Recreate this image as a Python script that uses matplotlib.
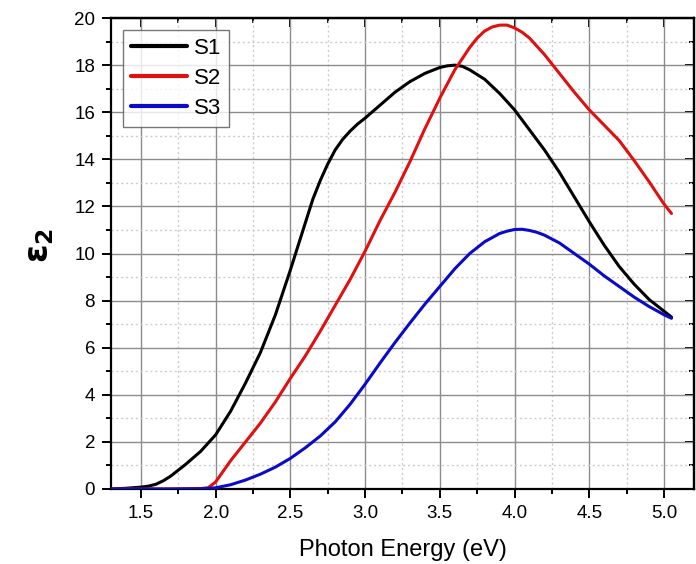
import matplotlib
matplotlib.use("Agg")
import matplotlib.pyplot as plt
from matplotlib.ticker import MultipleLocator, FormatStrFormatter

plt.rcParams['font.family'] = ['Liberation Sans', 'DejaVu Sans']

e1 = [1.3, 1.4, 1.5, 1.55, 1.6, 1.65, 1.7, 1.75, 1.8, 1.9, 2.0, 2.1, 2.2, 2.3, 2.4, 2.5,
      2.6, 2.65, 2.7, 2.75, 2.8, 2.85, 2.9, 2.95, 3.0, 3.1, 3.2, 3.3, 3.4, 3.5, 3.55, 3.6,
      3.65, 3.7, 3.8, 3.9, 4.0, 4.1, 4.2, 4.3, 4.4, 4.5, 4.6, 4.7, 4.8, 4.9, 5.0, 5.05]
s1 = [0.0, 0.03, 0.08, 0.12, 0.2, 0.35, 0.55, 0.8, 1.05, 1.6, 2.3, 3.3, 4.5, 5.8, 7.4, 9.3,
      11.3, 12.3, 13.1, 13.8, 14.4, 14.85, 15.2, 15.5, 15.75, 16.3, 16.85, 17.3, 17.65, 17.9,
      17.97, 18.0, 17.95, 17.8, 17.4, 16.8, 16.1, 15.25, 14.4, 13.45, 12.4, 11.35, 10.35,
      9.45, 8.7, 8.05, 7.55, 7.3]

e2 = [1.3, 1.5, 1.7, 1.9, 1.95, 2.0, 2.05, 2.1, 2.2, 2.3, 2.4, 2.5, 2.6, 2.7, 2.8, 2.9,
      3.0, 3.1, 3.2, 3.3, 3.4, 3.5, 3.6, 3.7, 3.75, 3.8, 3.85, 3.9, 3.95, 4.0, 4.05, 4.1,
      4.2, 4.3, 4.4, 4.5, 4.6, 4.7, 4.8, 4.9, 5.0, 5.05]
s2 = [0.0, 0.0, 0.0, 0.02, 0.05, 0.3, 0.75, 1.2, 2.0, 2.8, 3.7, 4.7, 5.65, 6.7, 7.8, 8.9,
      10.1, 11.4, 12.6, 13.9, 15.3, 16.6, 17.8, 18.75, 19.15, 19.45, 19.62, 19.7, 19.7,
      19.58, 19.4, 19.15, 18.45, 17.65, 16.85, 16.1, 15.45, 14.8, 13.95, 13.05, 12.1, 11.7]

e3 = [1.3, 1.5, 1.7, 1.9, 2.0, 2.1, 2.2, 2.3, 2.4, 2.5, 2.6, 2.7, 2.8, 2.9, 3.0, 3.1,
      3.2, 3.3, 3.4, 3.5, 3.6, 3.7, 3.8, 3.9, 3.95, 4.0, 4.05, 4.1, 4.15, 4.2, 4.3, 4.4,
      4.5, 4.6, 4.7, 4.8, 4.9, 5.0, 5.05]
s3 = [0.0, 0.0, 0.0, 0.01, 0.05, 0.18, 0.38, 0.63, 0.93, 1.3, 1.75, 2.25, 2.85, 3.6, 4.45,
      5.35, 6.22, 7.05, 7.85, 8.6, 9.35, 10.0, 10.5, 10.85, 10.95, 11.02, 11.03, 10.98, 10.9,
      10.78, 10.45, 10.0, 9.55, 9.05, 8.6, 8.15, 7.75, 7.4, 7.25]

labels = ['S1', 'S2', 'S3']
colors = ['#000000', '#e01010', '#0a0ac8']

fig = plt.figure(figsize=(6.96, 5.64), dpi=100)
ax = fig.add_axes([0.1595, 0.133, 0.8375, 0.835])

for x, y, lab, c in zip([e1, e2, e3], [s1, s2, s3], labels, colors):
    ax.plot(x, y, color=c, lw=2.2, label=lab, zorder=3,
            solid_joinstyle='round', solid_capstyle='round')

ax.set_xlim(1.3, 5.2)
ax.set_ylim(0, 20)
ax.xaxis.set_major_locator(MultipleLocator(0.5))
ax.xaxis.set_minor_locator(MultipleLocator(0.25))
ax.yaxis.set_major_locator(MultipleLocator(2))
ax.yaxis.set_minor_locator(MultipleLocator(1))
ax.xaxis.set_major_formatter(FormatStrFormatter('%.1f'))

ax.grid(which='major', color='#8c8c8c', lw=1.0, ls='-', zorder=0)
ax.grid(which='minor', color='#cccccc', lw=1.0, ls=(0, (1.5, 2)), zorder=0)
ax.set_axisbelow(True)

for s in ax.spines.values():
    s.set_linewidth(1.6)

ax.tick_params(which='both', left=True, bottom=True, direction='out', width=1.4)
ax.tick_params(which='major', length=6.5, labelsize=13.5, pad=5)
ax.tick_params(which='minor', length=3.5)
ax2x = ax.secondary_xaxis('top')
ax2x.xaxis.set_major_locator(MultipleLocator(0.5))
ax2x.xaxis.set_minor_locator(MultipleLocator(0.25))
ax2x.tick_params(which='both', direction='in', width=1.4, labeltop=False)
ax2x.tick_params(which='major', length=6.5)
ax2x.tick_params(which='minor', length=3.5)
ax2x.spines['top'].set_linewidth(1.6)
ax2y = ax.secondary_yaxis('right')
ax2y.yaxis.set_major_locator(MultipleLocator(2))
ax2y.yaxis.set_minor_locator(MultipleLocator(1))
ax2y.tick_params(which='both', direction='in', width=1.4, labelright=False)
ax2y.tick_params(which='major', length=6.5)
ax2y.tick_params(which='minor', length=3.5)
ax2y.spines['right'].set_linewidth(1.6)

ax.set_xlabel('Photon Energy (eV)', fontsize=17, labelpad=12)
fig.text(0.058, 0.565, r'$\mathbf{\varepsilon_2}$', fontsize=24, rotation=90,
         ha='center', va='center', fontweight='bold')

leg = ax.legend(loc='upper left', fontsize=16, frameon=True, fancybox=False,
                edgecolor='#555555', handlelength=2.5, handletextpad=0.35,
                borderpad=0.35, labelspacing=0.4, borderaxespad=0.55)
leg.get_frame().set_linewidth(1.0)
for h in leg.get_lines():
    h.set_linewidth(3.0)

fig.savefig('out.png', dpi=100)
